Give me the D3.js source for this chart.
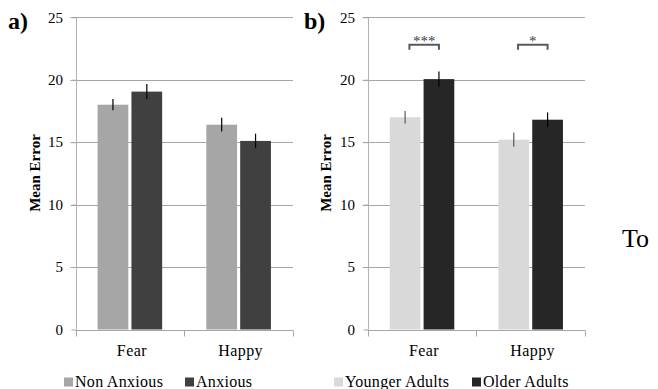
<!DOCTYPE html>
<html>
<head>
<meta charset="utf-8">
<script src="https://cdn.jsdelivr.net/npm/d3@7"></script>
<style>
  html, body { margin: 0; padding: 0; background: #fff; }
  svg { display: block; }
</style>
</head>
<body>
<svg id="chart" width="658" height="389"></svg>
<script>
// ---- Data ----
const categories = ["Fear", "Happy"];
const yTicks = [0, 5, 10, 15, 20, 25];

// Panel a
const seriesA = ["Non Anxious", "Anxious"];
const nonAnxious = [18.0, 16.4];
const nonAnxiousErr = [0.45, 0.55];
const anxious = [19.05, 15.1];
const anxiousErr = [0.6, 0.58];

// Panel b
const seriesB = ["Younger Adults", "Older Adults"];
const younger = [17.0, 15.2];
const youngerErr = [0.5, 0.57];
const older = [20.05, 16.8];
const olderErr = [0.6, 0.58];

// significance brackets (panel b)
const sigLabels = ["***", "*"];
const sigLevel = [22.8, 22.8];

const FONT = "Liberation Serif";
const svg = d3.select("#chart").attr("font-family", FONT);

function drawPanel(opts) {
  const { left, right, label, labelX, titleX, series, values, errs, colors, errColors, legend, sig } = opts;
  const top = 17.3, bottom = 329.5;
  const y = d3.scaleLinear().domain([0, 25]).range([bottom, top]);
  const x = d3.scaleBand().domain(categories).range([left, right]).padding(0);
  const inner = d3.scaleBand().domain(series)
    .range([x.bandwidth() * 0.203, x.bandwidth() * 0.797]).paddingInner(0.092);

  const g = svg.append("g");
  const crisp = v => Math.round(v) + 0.5;

  // gridlines
  g.selectAll("line.grid").data(yTicks.filter(d => d > 0)).join("line")
    .attr("x1", left - 5).attr("x2", right)
    .attr("y1", d => crisp(y(d))).attr("y2", d => crisp(y(d)))
    .attr("stroke", "#a6a6a6").attr("stroke-width", 1);

  // y axis
  const yAxis = d3.axisLeft(y).tickValues(yTicks).tickSize(5).tickPadding(8);
  const ya = g.append("g").attr("transform", `translate(${crisp(left) - 0.5},0)`).call(yAxis)
    .attr("font-family", FONT).attr("font-size", 15);
  ya.select(".domain").attr("stroke", "#b3b3b3").attr("d", `M0.5,${y(0)}V${y(25)}`);
  ya.selectAll(".tick line").attr("stroke", "#a6a6a6").attr("transform", "translate(0.5,0)");
  ya.selectAll(".tick text").attr("font-size", 15).attr("fill", "#000")
    .attr("font-family", FONT);

  // bars
  categories.forEach((c, ci) => {
    series.forEach((s, si) => {
      const v = values[si][ci];
      const e = errs[si][ci];
      const bx = x(c) + inner(s);
      g.append("rect")
        .attr("x", bx).attr("y", y(v))
        .attr("width", inner.bandwidth()).attr("height", y(0) - y(v))
        .attr("fill", colors[si]);
      g.append("line")
        .attr("x1", bx + inner.bandwidth() / 2).attr("x2", bx + inner.bandwidth() / 2)
        .attr("y1", y(v + e)).attr("y2", y(v - e))
        .attr("stroke", errColors[si]).attr("stroke-width", 1.2);
    });
  });

  // x axis
  const xa = g.append("g").attr("transform", `translate(0,${crisp(y(0))})`);
  xa.append("line").attr("x1", left).attr("x2", right).attr("y1", 0).attr("y2", 0)
    .attr("stroke", "#a6a6a6");
  const bounds = [left, ...categories.map(c => x(c) + x.bandwidth())];
  xa.selectAll("line.tk").data(bounds).join("line")
    .attr("x1", d => crisp(d)).attr("x2", d => crisp(d)).attr("y1", 0).attr("y2", 6)
    .attr("stroke", "#a6a6a6");
  xa.selectAll("text").data(categories).join("text")
    .attr("x", d => x(d) + x.bandwidth() / 2 + 2).attr("y", 25)
    .attr("text-anchor", "middle").attr("font-size", 16).attr("letter-spacing", 0.4)
    .attr("font-family", FONT)
    .text(d => d);

  // y title
  svg.append("text")
    .attr("transform", `translate(${titleX},173) rotate(-90)`)
    .attr("text-anchor", "middle").attr("font-size", 15).attr("font-weight", "bold")
    .attr("font-family", FONT)
    .text("Mean Error");

  // panel label
  svg.append("text").attr("x", labelX).attr("y", 29)
    .attr("font-size", 24).attr("font-weight", "bold").attr("font-family", FONT).text(label);

  // legend
  legend.forEach((L, i) => {
    svg.append("rect").attr("x", L.x).attr("y", 377.5).attr("width", 9).attr("height", 9)
      .attr("fill", colors[i]);
    svg.append("text").attr("x", L.x + 11).attr("y", 386.5)
      .attr("font-size", 16).attr("letter-spacing", 0.3).attr("font-family", FONT).text(series[i]);
  });

  // significance brackets
  if (sig) {
    categories.forEach((c, ci) => {
      const x1 = x(c) + inner(series[0]) + inner.bandwidth() * 0.64;
      const x2 = x(c) + inner(series[1]) + inner.bandwidth() * 0.5;
      const yb = y(sig.levels[ci]);
      g.append("path")
        .attr("d", `M${x1},${yb + 5}V${yb}H${x2}V${yb + 5}`)
        .attr("fill", "none").attr("stroke", "#595959").attr("stroke-width", 2);
      g.append("text").attr("x", (x1 + x2) / 2).attr("y", yb + 1)
        .attr("text-anchor", "middle").attr("font-size", 15).attr("fill", "#404040")
        .attr("font-family", FONT)
        .text(sig.labels[ci]);
    });
  }
}

drawPanel({
  left: 75.5, right: 293, label: "a)", labelX: 8, titleX: 40,
  series: seriesA, values: [nonAnxious, anxious], errs: [nonAnxiousErr, anxiousErr],
  colors: ["#a6a6a6", "#404040"], errColors: ["#000", "#000"],
  legend: [{ x: 64 }, { x: 185 }]
});

drawPanel({
  left: 367.7, right: 585, label: "b)", labelX: 304, titleX: 331,
  series: seriesB, values: [younger, older], errs: [youngerErr, olderErr],
  colors: ["#d9d9d9", "#262626"], errColors: ["#595959", "#000"],
  legend: [{ x: 334 }, { x: 472 }],
  sig: { labels: sigLabels, levels: sigLevel }
});

svg.append("text").attr("x", 622).attr("y", 246.5).attr("font-size", 26)
  .attr("font-family", FONT).text("To");
</script>
</body>
</html>
